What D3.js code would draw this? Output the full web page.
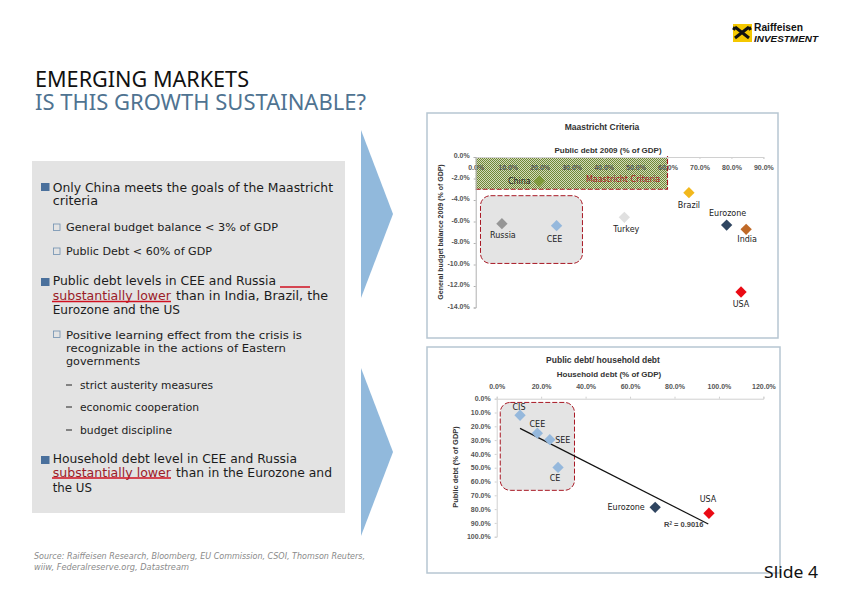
<!DOCTYPE html>
<html><head><meta charset="utf-8">
<style>html,body{margin:0;padding:0;background:#fff}svg{display:block}text{font-family:"Noto Sans",sans-serif}</style>
<script src="https://cdn.jsdelivr.net/npm/d3@7"></script></head><body>
<script>
// ---- data ----
const maastrichtNames = ["China","Brazil","Russia","CEE","Turkey","Eurozone","India","USA"];
const maastrichtDebt = [19.9,66.7,8.2,25.3,46.5,78.5,84.6,83.0];
const maastrichtBalance = [-2.23,-3.32,-6.2,-6.39,-5.61,-6.33,-6.73,-12.56];
const maastrichtColors = ["#7f9a3c","#f2b81c","#969696","#95b8dc","#e0e0e0","#2f4560","#c06a28","#ea0a14"];
const maastrichtLabelDx = [-20,0,1,-2,2,1,1,0];
const maastrichtLabelDy = [0,12,11,13,12,-12,10,12];
const debtTicks = [0,10,20,30,40,50,60,70,80,90];
const balanceTicks = [0,-2,-4,-6,-8,-10,-12,-14];
const householdNames = ["CIS","CEE","SEE","CE","Eurozone","USA"];
const householdDebt = [10.5,18.3,23.9,27.6,71.3,95.5];
const householdPublic = [12,25,29.7,49.8,78.7,83];
const householdColors = ["#95b8dc","#95b8dc","#95b8dc","#95b8dc","#2f4560","#ea0a14"];
const householdLabelDx = [-1,0,13,-3,-29,-1];
const householdLabelDy = [-8,-9,0,11,0,-14];
const householdTicks = [0,20,40,60,80,100,120];
const publicTicks = [0,10,20,30,40,50,60,70,80,90,100];
const trendX = [10.5,95.2];
const trendY = [21.5,90.8];
const textLines = [
 ["Only China meets the goals of the Maastricht",52.7,191.5,333],
 ["criteria",52.7,205,98],
 ["General budget balance < 3% of GDP",66,231,278],
 ["Public Debt < 60% of GDP",66,255,212],
 ["Public debt levels in CEE and Russia",52.7,285,276],
 ["substantially lower",52.7,300,171],
 ["than in India, Brazil, the",176,300,328],
 ["Eurozone and the US",52.7,314,180],
 ["Positive learning effect from the crisis is",66,339,302],
 ["recognizable in the actions of Eastern",66,352,286],
 ["governments",66,365,140],
 ["strict austerity measures",80,389,213],
 ["economic cooperation",80,411,199],
 ["budget discipline",80,434,172],
 ["Household debt level in CEE and Russia",52.7,462.7,297],
 ["substantially lower",52.7,476.7,171],
 ["than in the Eurozone and",176,476.7,332],
 ["the US",52.7,491.7,92]];
// ---- page ----
const svg = d3.select("body").append("svg").attr("width",842).attr("height",595);
const defs = svg.append("defs");
const hatch = defs.append("pattern").attr("id","hatch").attr("width",2).attr("height",2).attr("patternUnits","userSpaceOnUse");
hatch.append("rect").attr("width",2).attr("height",2).attr("fill","#d3dabb");
hatch.append("rect").attr("width",1).attr("height",1).attr("fill","#6f8836");
hatch.append("rect").attr("x",1).attr("y",1).attr("width",1).attr("height",1).attr("fill","#6f8836");

function txt(s,x,y,o={}){
  const t=svg.append("text").attr("x",x).attr("y",y).text(s)
    .attr("font-size",o.size||12).attr("fill",o.fill||"#222");
  if(o.family)t.style("font-family",o.family);
  if(o.anchor)t.attr("text-anchor",o.anchor);
  if(o.weight)t.attr("font-weight",o.weight);
  if(o.style)t.attr("font-style",o.style);
  if(o.end)t.attr("textLength",o.end-x).attr("lengthAdjust","spacingAndGlyphs");
  return t;
}
// arrows
[[130,214,298],[368,452,536]].forEach(a=>svg.append("path").attr("d",`M361,${a[0]}L393,${a[1]}L361,${a[2]}Z`).attr("fill","#91b9dc"));
// header
txt("EMERGING MARKETS",35,87,{size:22,fill:"#111",end:249});
txt("IS THIS GROWTH SUSTAINABLE?",35,110,{size:22,fill:"#4f7391",end:366});
// logo
svg.append("rect").attr("x",733).attr("y",24).attr("width",19).attr("height",18).attr("fill","#f5c800");
svg.append("path").attr("d","M735,38L749,27M735,27L749,38M735,27L733.5,30M749,27L750.5,30").attr("stroke","#111").attr("stroke-width",3).attr("fill","none");
txt("Raiffeisen",754,31,{size:10,weight:"bold",fill:"#111",family:"Liberation Sans",end:803});
txt("INVESTMENT",754,41.5,{size:9.5,weight:"bold",style:"italic",fill:"#111",family:"Liberation Sans",end:818});
// text panel
svg.append("rect").attr("x",32).attr("y",161).attr("width",313).attr("height",352).attr("fill","#e3e3e3");
textLines.forEach(l=>{const s=l[1]==52.7||l[1]==176?11.5:(l[1]==80?10.5:11);
  const c=(l[0]=="substantially lower")?"#9a1c28":"#1c1c1c";
  txt(l[0],l[1],l[2],{size:s,fill:c,end:l[3],family:"DejaVu Sans"});});
[183,278,456].forEach(y=>svg.append("rect").attr("x",41).attr("y",y).attr("width",8.5).attr("height",8).attr("fill","#4a709c"));
[224,248,331].forEach(y=>svg.append("rect").attr("x",53.5).attr("y",y).attr("width",6.5).attr("height",6.5).attr("fill","none").attr("stroke","#6f8fb0").attr("stroke-width",.8));
[385,407,430].forEach(y=>svg.append("line").attr("x1",66).attr("x2",72).attr("y1",y).attr("y2",y).attr("stroke","#222").attr("stroke-width",1));
[[52,171,301.5],[52,171,478],[280,310,287]].forEach(d=>svg.append("line").attr("x1",d[0]).attr("x2",d[1]).attr("y1",d[2]).attr("y2",d[2]).attr("stroke","#d01020").attr("stroke-width",1.5));
txt("Source: Raiffeisen Research, Bloomberg, EU Commission, CSOI, Thomson Reuters,",34,559,{size:9,style:"italic",fill:"#8a8a8a",end:365,family:"DejaVu Sans"});
txt("wiiw, Federalreserve.org, Datastream",34,570,{size:9,style:"italic",fill:"#8a8a8a",end:189,family:"DejaVu Sans"});
// chart panels
svg.append("rect").attr("x",427).attr("y",113).attr("width",351).attr("height",225).attr("fill","#fff").attr("stroke","#b7c6d2").attr("stroke-width",1.5);
svg.append("rect").attr("x",427).attr("y",347).attr("width",353).attr("height",226).attr("fill","#fff").attr("stroke","#b7c6d2").attr("stroke-width",1.5);

const tickFont=g=>g.selectAll("text").style("font-family","Liberation Sans").attr("font-size",7).attr("font-weight","bold").attr("fill","#555");
const marker=d3.symbol().type(d3.symbolSquare).size(64);
function markers(names,xs,ys,cols,dx,dy,x,y){
  names.forEach((n,i)=>{
    svg.append("path").attr("d",marker()).attr("fill",cols[i])
      .attr("transform",`translate(${x(xs[i])},${y(ys[i])}) rotate(45)`);
    txt(n,x(xs[i])+dx[i],y(ys[i])+dy[i]+3,{size:8,fill:"#222",anchor:"middle",family:"DejaVu Sans"});
  });
}
const DASH={stroke:"#a81824"};
// chart 1
const x1=d3.scaleLinear().domain([0,90]).range([475.7,763.4]);
const y1=d3.scaleLinear().domain([0,-14]).range([157,307.5]);
svg.append("rect").attr("x",x1(0)).attr("y",y1(0)).attr("width",x1(60)-x1(0)).attr("height",y1(-3)-y1(0)).attr("fill","url(#hatch)");
svg.append("path").attr("d",`M${x1(0)},${y1(-3)}H${x1(60)}V${y1(0)-1}`).attr("fill","none").attr("stroke",DASH.stroke).attr("stroke-width",1.1).attr("stroke-dasharray","5,2");
const box=(x,y,a,b,c,d,r)=>svg.append("rect").attr("x",x(a)).attr("y",y(b)).attr("width",x(c)-x(a)).attr("height",y(d)-y(b)).attr("rx",r).attr("fill","#e4e4e4").attr("stroke",DASH.stroke).attr("stroke-width",1).attr("stroke-dasharray","5,2");
box(x1,y1,1.5,-3.6,33.4,-9.9,10);
svg.append("g").attr("transform",`translate(0,${y1(0)})`).call(d3.axisBottom(x1).tickValues(debtTicks).tickFormat(d=>d.toFixed(1)+"%").tickSize(2).tickPadding(6))
  .call(tickFont).call(g=>g.selectAll("path,line").attr("stroke","#d0d0d0"));
svg.append("g").attr("transform",`translate(${x1(0)},0)`).call(d3.axisLeft(y1).tickValues(balanceTicks).tickFormat(d=>d.toFixed(1)+"%").tickSize(2).tickPadding(4))
  .call(tickFont).call(g=>g.selectAll("path,line").attr("stroke","#b0b0b0")).call(g=>g.selectAll("text").attr("dy","0.1em"));
txt("Maastricht Criteria",602,129.5,{size:8.5,weight:"bold",anchor:"middle",family:"Liberation Sans",fill:"#333"});
txt("Public debt 2009 (% of GDP)",608,153,{size:8,weight:"bold",anchor:"middle",family:"Liberation Sans",fill:"#333"});
txt("General budget balance 2009 (% of GDP)",0,0,{size:7,weight:"bold",anchor:"middle",family:"Liberation Sans",fill:"#333"}).attr("transform","translate(443,232) rotate(-90)");
txt("Maastricht Criteria",623,182,{size:8,anchor:"middle",fill:"#a81824",family:"DejaVu Sans"});
markers(maastrichtNames,maastrichtDebt,maastrichtBalance,maastrichtColors,maastrichtLabelDx,maastrichtLabelDy,x1,y1);
// chart 2
const x2=d3.scaleLinear().domain([0,120]).range([496.7,763.4]);
const y2=d3.scaleLinear().domain([0,100]).range([398.7,536.7]);
box(x2,y2,1.6,2.7,35,66.4,10);
svg.append("g").attr("transform",`translate(0,${y2(0)})`).call(d3.axisTop(x2).tickValues(householdTicks).tickFormat(d=>d.toFixed(1)+"%").tickSize(2).tickPadding(8))
  .call(tickFont).call(g=>g.selectAll("path,line").attr("stroke","#d0d0d0"));
svg.append("g").attr("transform",`translate(${x2(0)},0)`).call(d3.axisLeft(y2).tickValues(publicTicks).tickFormat(d=>d.toFixed(1)+"%").tickSize(2).tickPadding(4))
  .call(tickFont).call(g=>g.selectAll("path,line").attr("stroke","#d0d0d0"));
txt("Public debt/ household debt",603,362.5,{size:8.5,weight:"bold",anchor:"middle",family:"Liberation Sans",fill:"#333"});
txt("Household debt (% of GDP)",609,376.5,{size:8,weight:"bold",anchor:"middle",family:"Liberation Sans",fill:"#333"});
txt("Public debt (% of GDP)",0,0,{size:7.5,weight:"bold",anchor:"middle",family:"Liberation Sans",fill:"#333"}).attr("transform","translate(458,467) rotate(-90)");
svg.append("path").attr("d",d3.line().x(d=>x2(d[0])).y(d=>y2(d[1]))(d3.zip(trendX,trendY))).attr("stroke","#111").attr("stroke-width",1.2).attr("fill","none");
markers(householdNames,householdDebt,householdPublic,householdColors,householdLabelDx,householdLabelDy,x2,y2);
const r=txt("R",664,527,{size:7.5,weight:"bold",family:"Liberation Sans",fill:"#444"});
r.append("tspan").attr("dy",-2).attr("font-size",4.5).text("2");
r.append("tspan").attr("dy",2).text(" = 0.9016");
txt("Slide 4",764,578,{size:17,fill:"#111",end:818});
</script></body></html>
